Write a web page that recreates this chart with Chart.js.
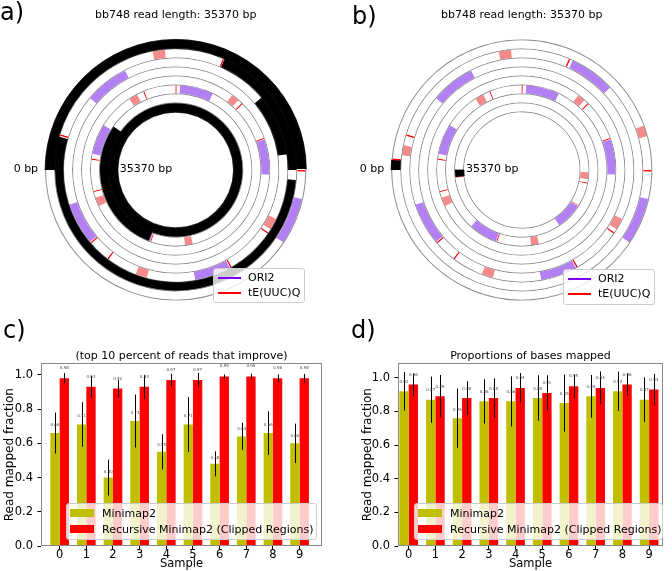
<!DOCTYPE html>
<html>
<head>
<meta charset="utf-8">
<script src="https://cdn.jsdelivr.net/npm/chart.js@4.4.0/dist/chart.umd.min.js"></script>
<style>
body { margin: 0; background: #fff; font-family: "DejaVu Sans", sans-serif; }
#page { position: relative; width: 672px; height: 571px; overflow: hidden; }
canvas, .tag, .legend { position: absolute; }
.tag { font-size: 24px; line-height: 24px; color: #000; }
.legend { background: rgba(255,255,255,0.8); border: 1px solid #cccccc; border-radius: 3px; box-sizing: border-box; font-size: 11px; line-height: 13px; color: #000; }
.legend div { position: absolute; white-space: nowrap; }
</style>
</head>
<body>
<div id="page">
  <canvas id="spiralA" width="336" height="310" style="left:0;top:0"></canvas>
  <canvas id="spiralB" width="336" height="310" style="left:336px;top:0"></canvas>
  <canvas id="barsTop" width="336" height="231" style="left:0;top:340px"></canvas>
  <canvas id="barsBases" width="336" height="231" style="left:336px;top:340px"></canvas>

  <div class="tag" style="left:0;top:0">a)</div>
  <div class="tag" style="left:352px;top:4px">b)</div>
  <div class="tag" style="left:3px;top:318px">c)</div>
  <div class="tag" style="left:351px;top:318px">d)</div>

  <div class="legend" style="left:213px;top:268px;width:92px;height:35px">
    <div style="left:4px;top:8px;width:23px;height:2px;background:#7f00ff"></div>
    <div style="left:34px;top:2px">ORI2</div>
    <div style="left:4px;top:23px;width:23px;height:2px;background:#ff0000"></div>
    <div style="left:34px;top:17px">tE(UUC)Q</div>
  </div>
  <div class="legend" style="left:563px;top:269px;width:92px;height:36px">
    <div style="left:4px;top:8px;width:23px;height:2px;background:#7f00ff"></div>
    <div style="left:34px;top:2px">ORI2</div>
    <div style="left:4px;top:23px;width:23px;height:2px;background:#ff0000"></div>
    <div style="left:34px;top:17px">tE(UUC)Q</div>
  </div>
  <div class="legend" style="left:66px;top:503px;width:251px;height:37px">
    <div style="left:3px;top:5px;width:24px;height:8px;background:#bfbf00"></div>
    <div style="left:35px;top:3px">Minimap2</div>
    <div style="left:3px;top:21px;width:24px;height:8px;background:#ff0000"></div>
    <div style="left:35px;top:19px">Recursive Minimap2 (Clipped Regions)</div>
  </div>
  <div class="legend" style="left:414px;top:503px;width:249px;height:37px">
    <div style="left:3px;top:5px;width:24px;height:8px;background:#bfbf00"></div>
    <div style="left:35px;top:3px">Minimap2</div>
    <div style="left:3px;top:21px;width:24px;height:8px;background:#ff0000"></div>
    <div style="left:35px;top:19px">Recursive Minimap2 (Clipped Regions)</div>
  </div>
</div>
<script>
Chart.defaults.font.family = '"DejaVu Sans", sans-serif';
Chart.defaults.color = '#000';

// read bb748, positions in bp
var readLength = 35370;
var turns = 8;
var ori2Start = [2370, 5833, 9334, 11803, 12773, 19662, 22241, 23248, 30089, 33565];
var ori2End   = [2628, 6104, 9617, 12036, 13043, 19932, 22499, 23531, 30360, 33847];
var trnaStart = [1965, 4507, 5391, 11373, 12343, 19245, 22806, 26220, 29684, 33184];
var trnaEnd   = [2026, 4568, 5465, 11447, 12417, 19306, 22880, 26294, 29758, 33258];
var trnaTick  = [55, 2211, 4624, 5809, 11471, 11790, 12613, 12760, 19339, 19650, 22192, 22936, 23211, 26343, 30076, 33295, 33552, 35290];
var mappedStartA = [0, 4422, 5821, 6693, 10562, 26528, 30102];
var mappedEndA   = [2205, 4618, 6632, 8843, 10955, 26958, 35370];
var mappedStartB = [0, 35300];
var mappedEndB   = [55, 35370];

// bar panels
var samples = [0, 1, 2, 3, 4, 5, 6, 7, 8, 9];
var topMinimap     = [0.66, 0.71, 0.40, 0.73, 0.55, 0.71, 0.48, 0.64, 0.66, 0.60];
var topMinimapErr  = [0.12, 0.13, 0.105, 0.155, 0.103, 0.16, 0.073, 0.08, 0.127, 0.115];
var topRecursive    = [0.98, 0.93, 0.92, 0.93, 0.97, 0.97, 0.99, 0.99, 0.98, 0.98];
var topRecursiveErr = [0.03, 0.064, 0.05, 0.07, 0.036, 0.042, 0.012, 0.017, 0.022, 0.025];
var baseMinimap     = [0.92, 0.87, 0.76, 0.86, 0.86, 0.88, 0.85, 0.89, 0.92, 0.87];
var baseMinimapErr  = [0.115, 0.137, 0.176, 0.132, 0.149, 0.135, 0.17, 0.127, 0.117, 0.133];
var baseRecursive    = [0.96, 0.89, 0.88, 0.88, 0.94, 0.91, 0.95, 0.94, 0.96, 0.93];
var baseRecursiveErr = [0.067, 0.127, 0.1, 0.117, 0.088, 0.105, 0.07, 0.098, 0.067, 0.093];

var ori2Fill = '#b27ff5';
var trnaFill = '#f58a8a';
var trnaLine = '#ff0000';
var mappedColour = '#000000';
var trackLine = '#8a8a8a';
var tickWidth = 9;

function isMapped(starts, ends, pos) {
  for (var i = 0; i < starts.length; i++) {
    if (pos >= starts[i] && pos < ends[i]) return true;
  }
  return false;
}

function markList(starts, ends) {
  var marks = [], i;
  for (i = 0; i < ori2Start.length; i++) marks.push([ori2Start[i], ori2End[i], ori2Fill, 1]);
  for (i = 0; i < trnaStart.length; i++) marks.push([trnaStart[i], trnaEnd[i], trnaFill, 1]);
  for (i = 0; i < trnaTick.length; i++) marks.push([trnaTick[i], trnaTick[i] + tickWidth, trnaLine, 2]);
  for (i = 0; i < starts.length; i++) marks.push([starts[i], ends[i], mappedColour, 3]);
  return marks;
}

function colourAt(marks, pos) {
  var best = null, prio = 0;
  marks.forEach(function(m) {
    if (pos >= m[0] && pos < m[1] && m[3] > prio) { best = m[2]; prio = m[3]; }
  });
  return best;
}

// cut [lo,hi] into pieces, colour each piece from its middle
function ring(lo, hi, cuts, pick) {
  var pts = [lo, hi];
  cuts.forEach(function(c) { if (c > lo && c < hi) pts.push(c); });
  pts.sort(function(a, b) { return a - b; });
  var data = [], colours = [];
  for (var i = 1; i < pts.length; i++) {
    var len = pts[i] - pts[i - 1];
    if (len <= 0) continue;
    var col = pick((pts[i] + pts[i - 1]) / 2);
    if (colours.length && colours[colours.length - 1] === col) data[data.length - 1] += len;
    else { data.push(len); colours.push(col); }
  }
  return {data: data, colours: colours};
}

function ringDataset(r, weight) {
  // black pieces get a thin black edge so stacked black rings join up
  return {
    data: r.data,
    backgroundColor: r.colours,
    borderColor: r.colours,
    borderWidth: r.colours.map(function(c) { return c === mappedColour ? 0.8 : 0; }),
    weight: weight,
    hoverBorderWidth: 0, hoverOffset: 0, offset: 0
  };
}

function spiralDatasets(starts, ends) {
  var turnLength = readLength / turns;
  var marks = markList(starts, ends);
  var cuts = [];
  marks.forEach(function(m) { cuts.push(m[0], m[1]); });
  var sets = [];
  for (var j = 0; j <= turns; j++) {
    var nb = [];
    if (j > 0) nb.push(j - 1);
    if (j < turns) nb.push(j);
    var lineCuts = [];
    nb.forEach(function(k) { cuts.forEach(function(c) { lineCuts.push(c - k * turnLength); }); });
    var line = ring(0, turnLength, lineCuts, function(off) {
      return nb.every(function(k) { return isMapped(starts, ends, k * turnLength + off); }) ? mappedColour : trackLine;
    });
    sets.push(ringDataset(line, 0.12));
    if (j < turns) {
      var lo = j * turnLength;
      var t = ring(lo, lo + turnLength, cuts, function(p) { return colourAt(marks, p) || '#ffffff'; });
      sets.push(ringDataset(t, 1));
    }
  }
  return sets;
}

var endLabels = {
  id: 'endLabels',
  afterDraw: function(chart) {
    var outer = chart.getDatasetMeta(0).data[0];
    var inner = chart.getDatasetMeta(chart.data.datasets.length - 1).data[0];
    var ctx = chart.ctx;
    ctx.save();
    ctx.font = '11px "DejaVu Sans"';
    ctx.fillStyle = '#000';
    ctx.textBaseline = 'middle';
    ctx.textAlign = 'right';
    ctx.fillText('0 bp', outer.x - outer.outerRadius - 7, outer.y - 1);
    ctx.textAlign = 'left';
    ctx.fillText(readLength + ' bp', inner.x - inner.innerRadius + 2, inner.y - 1);
    ctx.restore();
  }
};

function drawSpiral(id, starts, ends, pad) {
  new Chart(document.getElementById(id), {
    type: 'doughnut',
    data: {datasets: spiralDatasets(starts, ends)},
    options: {
      responsive: false,
      animation: false,
      events: [],
      rotation: 270,
      circumference: 360,
      cutout: '44.3%',
      layout: {padding: pad},
      plugins: {
        legend: {display: false},
        tooltip: {enabled: false},
        title: {
          display: true,
          fullSize: false,
          text: 'bb748 read length: ' + readLength + ' bp',
          font: {size: 11, weight: 'normal'},
          color: '#000',
          padding: {top: 8.4, bottom: 17.4}
        }
      }
    },
    plugins: [endLabels]
  });
}

var errorBars = {
  id: 'errorBars',
  afterDatasetsDraw: function(chart) {
    var ctx = chart.ctx, y = chart.scales.y, area = chart.chartArea;
    ctx.save();
    chart.data.datasets.forEach(function(ds, d) {
      chart.getDatasetMeta(d).data.forEach(function(bar, i) {
        var v = ds.data[i].y, e = ds.errors[i];
        var x = Math.round(bar.x) + 0.5;
        ctx.strokeStyle = '#000';
        ctx.lineWidth = 1;
        ctx.beginPath();
        ctx.moveTo(x, y.getPixelForValue(v - e));
        ctx.lineTo(x, y.getPixelForValue(v + e));
        ctx.stroke();
        ctx.fillStyle = '#444';
        ctx.font = '4px "DejaVu Sans"';
        ctx.textAlign = 'center';
        ctx.textBaseline = 'bottom';
        ctx.fillText(v.toFixed(2), bar.x, y.getPixelForValue(v * 1.05));
      });
    });
    ctx.strokeStyle = '#888';
    ctx.lineWidth = 1;
    ctx.strokeRect(Math.round(area.left) + 0.5, Math.round(area.top) + 0.5,
      Math.round(area.width) - 1, Math.round(area.height) - 1);
    ctx.restore();
  }
};

function drawBars(id, title, mm, mmErr, rec, recErr, xMin, xMax, yMax, pad, yWidth) {
  function points(vals) { return samples.map(function(s, i) { return {x: s, y: vals[i]}; }); }
  new Chart(document.getElementById(id), {
    type: 'bar',
    data: {
      datasets: [
        {label: 'Minimap2', data: points(mm), errors: mmErr, backgroundColor: '#bfbf00',
          categoryPercentage: 0.7, barPercentage: 1.0, borderWidth: 0},
        {label: 'Recursive Minimap2 (Clipped Regions)', data: points(rec), errors: recErr, backgroundColor: '#ff0000',
          categoryPercentage: 0.7, barPercentage: 1.0, borderWidth: 0}
      ]
    },
    options: {
      responsive: false,
      animation: false,
      events: [],
      layout: {padding: pad},
      scales: {
        x: {
          type: 'linear', min: xMin, max: xMax, offset: false,
          afterFit: function(s) { s.height = 25; },
          ticks: {stepSize: 1, includeBounds: false, padding: -1, font: {size: 11.5}, maxRotation: 0},
          grid: {offset: false, drawOnChartArea: false, drawTicks: true, tickLength: 3.5, tickColor: '#000'},
          border: {display: false},
          title: {display: true, text: 'Sample', font: {size: 11.5}, padding: {top: 0, bottom: 0}}
        },
        y: {
          min: 0, max: yMax,
          afterFit: function(s) { s.width = yWidth; },
          ticks: {stepSize: 0.2, includeBounds: false, padding: 4.5, font: {size: 11.5},
            callback: function(v) { return v.toFixed(1); }},
          grid: {drawOnChartArea: false, drawTicks: true, tickLength: 3.5, tickColor: '#000'},
          border: {display: false},
          title: {display: true, text: 'Read mapped fraction', font: {size: 12}, padding: {top: 3, bottom: 0}}
        }
      },
      plugins: {
        legend: {display: false},
        tooltip: {enabled: false},
        title: {
          display: true,
          fullSize: false,
          text: title,
          font: {size: 11, weight: 'normal'},
          color: '#000',
          padding: {top: 10, bottom: 0}
        }
      }
    },
    plugins: [errorBars]
  });
}

drawSpiral('spiralA', mappedStartA, mappedEndA, {left: 44.7, right: 29.3, top: 0, bottom: 9});
drawSpiral('spiralB', mappedStartB, mappedEndB, {left: 54.8, right: 19.2, top: 0, bottom: 9});
drawBars('barsTop', '(top 10 percent of reads that improve)', topMinimap, topMinimapErr, topRecursive, topRecursiveErr,
  -0.7, 9.84, 1.068, {left: 0, right: 14, top: 0, bottom: 0}, 41);
drawBars('barsBases', 'Proportions of bases mapped', baseMinimap, baseMinimapErr, baseRecursive, baseRecursiveErr,
  -0.4, 9.52, 1.087, {left: 22, right: 9, top: 0, bottom: 0}, 40);
</script>
</body>
</html>
